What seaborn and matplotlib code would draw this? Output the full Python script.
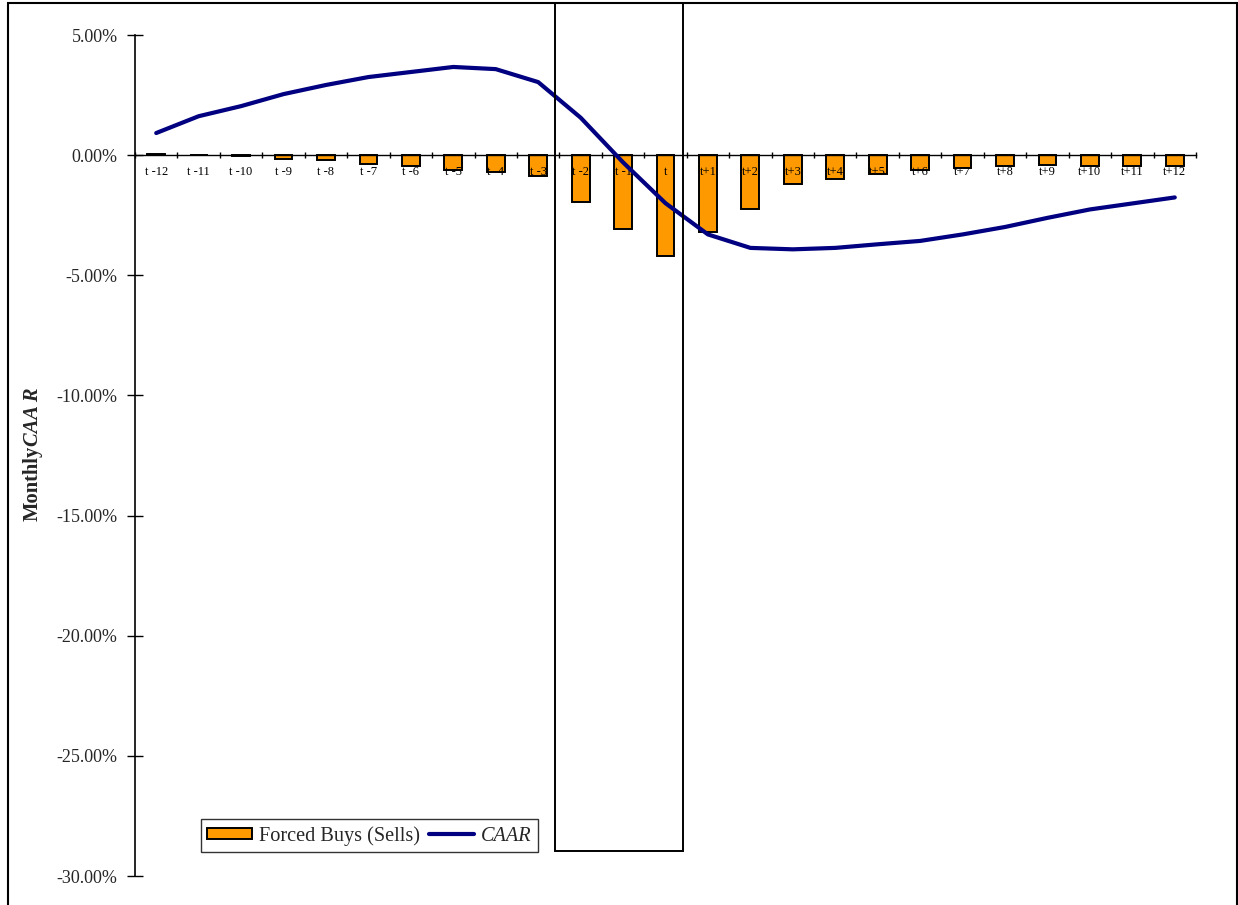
import numpy as np
import pandas as pd
import matplotlib
matplotlib.use("Agg")
import matplotlib.pyplot as plt
from matplotlib.patches import Rectangle
from matplotlib.ticker import PercentFormatter, FixedLocator, NullFormatter, FixedFormatter
from matplotlib.lines import Line2D
from matplotlib.patches import Patch
import seaborn as sns

# ---- data ----
months = ["t -12", "t -11", "t -10", "t -9", "t -8", "t -7", "t -6", "t -5", "t -4",
          "t -3", "t -2", "t -1", "t", "t+1", "t+2", "t+3", "t+4", "t+5", "t+6",
          "t+7", "t+8", "t+9", "t+10", "t+11", "t+12"]
forced_flows = [0.06, 0.0, -0.05, -0.14, -0.21, -0.35, -0.47, -0.60, -0.72,
                -0.86, -1.97, -3.08, -4.19, -3.21, -2.24, -1.19, -1.00, -0.80,
                -0.60, -0.53, -0.47, -0.40, -0.47, -0.47, -0.47]
caar = [0.92, 1.62, 2.04, 2.54, 2.92, 3.25, 3.46, 3.67, 3.58, 3.04, 1.56, -0.30,
        -2.00, -3.30, -3.86, -3.92, -3.86, -3.71, -3.57, -3.30, -2.99, -2.61,
        -2.26, -2.01, -1.76]
yticks = [5, 0, -5, -10, -15, -20, -25, -30]
bar_label = "Forced Buys (Sells)"
line_label = "CAAR"

ORANGE = "#FF9900"
NAVY = "#000080"

sns.set_theme(style="white")
plt.rcParams["font.family"] = ["Liberation Serif", "DejaVu Serif"]
plt.rcParams["axes.unicode_minus"] = False

fig = plt.figure(figsize=(12.38, 9.05), dpi=100)
ax = fig.add_axes([135/1238, 29/905, (1196-135)/1238, (876-35)/905])

df = pd.DataFrame({"month": months, "flow": forced_flows})
sns.barplot(data=df, x="month", y="flow", color=ORANGE, edgecolor="black",
            linewidth=1.4, width=0.42, saturation=1, ax=ax, zorder=2)
sns.lineplot(x=np.arange(len(caar)), y=caar, color=NAVY, linewidth=3,
             ax=ax, zorder=4)
ax.set_axisbelow(False)

ax.set_xlim(-0.5, len(months) - 0.5)
ax.set_ylim(-30, 5)

# spines
for s in ["top", "right"]:
    ax.spines[s].set_visible(False)
ax.spines["bottom"].set_position(("data", 0))
ax.spines["bottom"].set_color("black")
ax.spines["bottom"].set_linewidth(1.0)
ax.spines["left"].set_color("black")
ax.spines["left"].set_linewidth(1.2)
ax.set_facecolor("none")

# x ticks: boundaries as major, labels centered as minor
ax.xaxis.set_major_locator(FixedLocator(np.arange(-0.5, len(months) + 0.5, 1)))
ax.xaxis.set_major_formatter(NullFormatter())
ax.xaxis.set_minor_locator(FixedLocator(np.arange(len(months))))
ax.xaxis.set_minor_formatter(FixedFormatter(months))
ax.tick_params(axis="x", which="major", direction="inout", length=5, width=1,
               color="black", bottom=True)
ax.tick_params(axis="x", which="minor", length=0, labelsize=9, pad=8,
               labelcolor="black", bottom=True)

# y ticks
ax.set_yticks(yticks)
ax.yaxis.set_major_formatter(PercentFormatter(decimals=2))
ax.tick_params(axis="y", which="major", direction="inout", length=12, width=1,
               color="black", labelsize=13, pad=6.5, left=True)
ax.set_xlabel("")

# y label: "Monthly" bold + "CAA R" bold italic
ax.set_ylabel("Monthly", fontsize=14.8, fontweight="bold")
ax.yaxis.set_label_coords(-0.087, 0.467)
ylab = ax.yaxis.label
ax.annotate("CAA R", xy=(0.5, 1.0), xycoords=ylab, rotation=90,
            ha="center", va="bottom", fontsize=14.8, fontweight="bold",
            fontstyle="italic")

# event window rectangle
ax.add_patch(Rectangle((9.40, -28.96), 12.42 - 9.40, 6.33 + 28.96, fill=False,
                       edgecolor="black", linewidth=1.4, clip_on=False, zorder=5))

# legend
handles = [Patch(facecolor=ORANGE, edgecolor="black", linewidth=1.4),
           Line2D([0], [0], color=NAVY, linewidth=3)]
leg = ax.legend(handles, [bar_label, line_label], ncol=2, loc="lower left",
                bbox_to_anchor=(0.0622, 0.0285), borderaxespad=0, fontsize=14.6,
                frameon=True, fancybox=False, shadow=False, handlelength=2.2,
                handleheight=0.5, handletextpad=0.35, columnspacing=0.45,
                borderpad=0.32)
leg.get_frame().set_edgecolor("black")
leg.get_frame().set_linewidth(1.0)
leg.get_texts()[1].set_fontstyle("italic")

# outer figure frame
fig.patches.append(Rectangle((8/1238, -0.01), (1237-8)/1238, 1 - 3/905 + 0.01,
                             transform=fig.transFigure, fill=False,
                             edgecolor="black", linewidth=1.5))

fig.savefig("out.png", dpi=100)
